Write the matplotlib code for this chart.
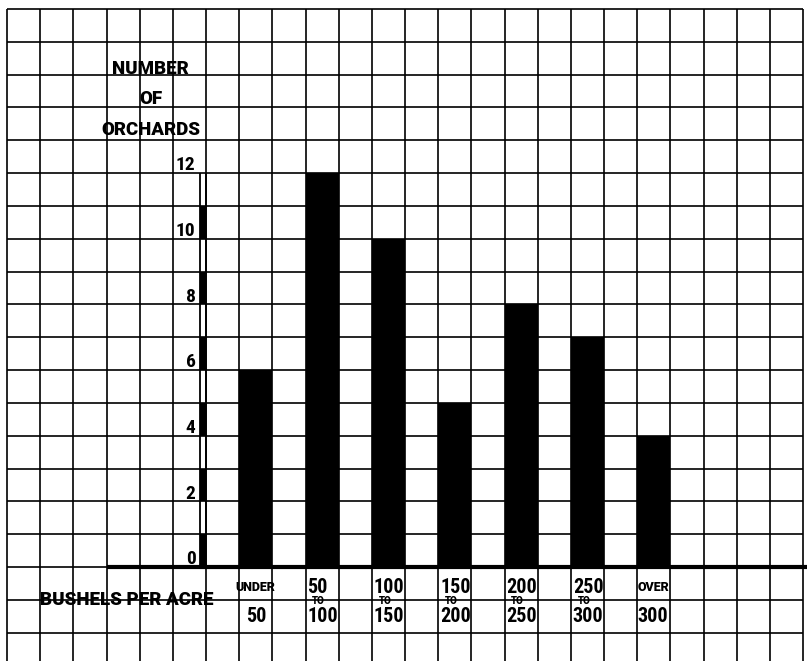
import matplotlib.pyplot as plt
from matplotlib import font_manager

# bushels per acre classes and number of orchards in each
top_labels = ['UNDER', '50', '100', '150', '200', '250', 'OVER']
mid_labels = ['', 'TO', 'TO', 'TO', 'TO', 'TO', '']
bottom_labels = ['50', '100', '150', '200', '250', '300', '300']
orchards = [6, 12, 10, 5, 8, 7, 4]
y_ticks = [0, 2, 4, 6, 8, 10, 12]

# a wide bold face for words, a narrow bold face for the figures
names = set(font_manager.get_font_names())
WIDE = 'Roboto' if 'Roboto' in names else 'DejaVu Sans'
NARROW = WIDE
for f in ['Roboto Condensed', 'Liberation Sans Narrow', 'DejaVu Sans Condensed']:
    if f in names:
        NARROW = f
        break
WORDS = dict(fontweight='heavy', family=WIDE, zorder=5)
FIGS = dict(fontweight='heavy', family=NARROW, fontstretch='condensed', zorder=5)

fig = plt.figure(figsize=(8.07, 6.61), dpi=100)
ax = fig.add_axes([0, 0, 1, 1])
ax.set_xlim(-0.211, 24.12)
ax.set_ylim(-2.863, 17.27)
ax.axis('off')

# graph paper grid
ax.hlines(range(-2, 18), 0, 24, color='black', lw=1.2, zorder=1)
ax.vlines(range(0, 25), -2.863, 17, color='black', lw=1.2, zorder=1)

# bars, one square wide, every other column
bar_x = [7 + 2 * i for i in range(len(orchards))]
ax.bar(bar_x, orchards, width=1, align='edge', color='black', zorder=3)

# baseline
ax.hlines(0, 3, 24.2, color='black', lw=3, zorder=4)

# y axis drawn as a double line with filled segments
ax.vlines([5.82, 6.0], 0, 12, color='black', lw=1.3, zorder=4)
ax.bar([5.82] * 6, [1] * 6, bottom=y_ticks[:-1], width=0.18, align='edge',
       color='black', zorder=4)
for t in y_ticks:
    ax.text(5.68, t + 0.08, str(t), ha='right', va='baseline', fontsize=14,
            **FIGS)

# y title
for txt, yv in [('NUMBER', 15.02), ('OF', 14.1), ('ORCHARDS', 13.16)]:
    ax.text(4.33, yv, txt, ha='center', va='baseline', fontsize=13.5, **WORDS)

# x title
ax.text(1.0, -1.16, 'BUSHELS PER ACRE', ha='left', va='baseline',
        fontsize=13.5, **WORDS)

# category labels under each bar
for x, top, mid, bot in zip(bar_x, top_labels, mid_labels, bottom_labels):
    if top.isalpha():
        ax.text(x + 0.48, -0.73, top, ha='center', va='baseline', fontsize=9,
                fontweight='heavy', family=WIDE, zorder=5)
        bx = x + 0.2 if top == 'UNDER' else x + 0.0
    else:
        ax.text(x + 0.06, -0.79, top, ha='left', va='baseline', fontsize=14.5,
                **FIGS)
        bx = x + 0.06
    if mid:
        ax.text(x + 0.4, -1.13, mid, ha='center', va='baseline', fontsize=7,
                fontweight='heavy', family=WIDE, zorder=5)
    ax.text(bx, -1.675, bot, ha='left', va='baseline', fontsize=14.5, **FIGS)

fig.savefig('out.png', dpi=100, facecolor='white')
